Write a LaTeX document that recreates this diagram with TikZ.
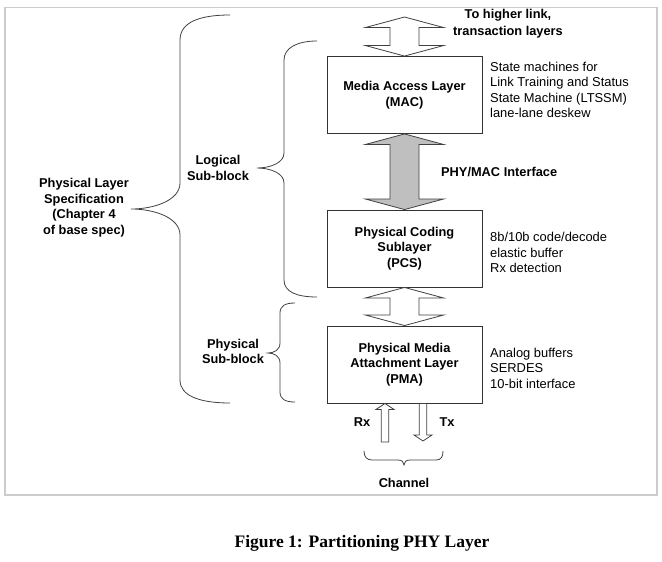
\documentclass[tikz,border=0pt]{standalone}
\usepackage{fontspec}
\setmainfont{Liberation Sans}
\newfontfamily\capfont{Liberation Serif}
\usetikzlibrary{calc}
\tikzset{
  layerbox/.style={draw=black!80, line width=0.9pt, minimum width=155pt, minimum height=77pt, align=center, font=\fontsize{12.8}{15.5}\selectfont\bfseries, inner sep=0pt},
  lbl/.style={font=\fontsize{12.8}{15.5}\selectfont\bfseries, align=center, inner sep=0pt},
  note/.style={font=\fontsize{12.9}{15.5}\selectfont, align=left, anchor=west, inner sep=0pt},
  bracestyle/.style={draw=black!75, line width=0.8pt},
  blockarr/.style={draw=black!75, line width=0.8pt, fill=white, line join=miter},
  framestyle/.style={draw=black!20, line width=1.2pt},
}
\newcommand{\dblarr}[3]{%
  \path[#3] let \p1=(#1), \p2=(#2) in
    (\x1,\y1) -- ({\x1+39pt},{\y1-10.5pt}) -- ({\x1+14.5pt},{\y1-10.5pt})
    -- ({\x2+14.5pt},{\y2+10.5pt}) -- ({\x2+39pt},{\y2+10.5pt}) -- (\x2,\y2)
    -- ({\x2-39pt},{\y2+10.5pt}) -- ({\x2-14.5pt},{\y2+10.5pt})
    -- ({\x1-14.5pt},{\y1-10.5pt}) -- ({\x1-39pt},{\y1-10.5pt}) -- cycle;}
% #1 tail, #2 tip, #3 sign (1 = tip above tail, -1 = tip below tail)
\newcommand{\sglarr}[3]{%
  \path[blockarr] let \p1=(#1), \p2=(#2) in
    ({\x1-3.75pt},\y1) -- ({\x1-3.75pt},{\y2-#3*6pt}) -- ({\x1-9pt},{\y2-#3*6pt})
    -- (\x1,\y2) -- ({\x1+9pt},{\y2-#3*6pt}) -- ({\x1+3.75pt},{\y2-#3*6pt})
    -- ({\x1+3.75pt},\y1) -- cycle;}
\begin{document}
\begin{tikzpicture}[x=1pt,y=-1pt]
\useasboundingbox (0,0) rectangle (662,562);
\draw[framestyle] (5,7.5) rectangle (657,495);

% layer boxes
\node[layerbox] (mac) at (404.5,95) {Media Access Layer\\(MAC)};
\node[layerbox] (pcs) at (404.5,248.5) {Physical Coding\\Sublayer\\(PCS)};
\node[layerbox] (pma) at (404.5,364.5) {Physical Media\\Attachment Layer\\(PMA)};

% block arrows
\coordinate (higher) at (404.5,17);
\dblarr{higher}{mac.north}{blockarr}
\dblarr{mac.south}{pcs.north}{blockarr,fill=black!25}
\dblarr{pcs.south}{pma.north}{blockarr}

\coordinate (rxtail) at (385,442);
\coordinate (txtip) at (423,441);
\sglarr{rxtail}{pma.south -| rxtail}{1}
\sglarr{pma.south -| txtip}{txtip}{-1}

% labels
\node[lbl, font=\fontsize{12.8}{16.5}\selectfont\bfseries] (toh) at (508,23.5) {To higher link,\\transaction layers};
\node[lbl, anchor=west] (phymac) at (441,172) {PHY/MAC Interface};
\node[note] (macnote) at (490,90) {State machines for\\Link Training and Status\\State Machine (LTSSM)\\lane-lane deskew};
\node[note] (pcsnote) at (490,252.5) {8b/10b code/decode\\elastic buffer\\Rx detection};
\node[note] (pmanote) at (490,368) {Analog buffers\\SERDES\\10-bit interface};
\node[lbl] (logical) at (218,168) {Logical\\Sub-block};
\node[lbl] (physical) at (233,351.5) {Physical\\Sub-block};
\node[lbl] (physpec) at (84,207.5) {Physical Layer\\Specification\\(Chapter 4\\of base spec)};
\node[lbl] (rx) at (362,422) {Rx};
\node[lbl] (tx) at (447,422) {Tx};
\node[lbl] (channel) at (404,483) {Channel};
\node[font=\capfont\bfseries\fontsize{17.5}{20}\selectfont, inner sep=0pt] (caption) at (362,543) {Figure 1: Partitioning PHY Layer};

% braces
\draw[bracestyle] (230,15) .. controls (200,15) and (180,22) .. (180,40) -- (180,183)
  .. controls (180,200) and (155,209) .. (131,209)
  .. controls (155,209) and (180,218) .. (180,235) -- (180,380)
  .. controls (180,396) and (200,403) .. (230,403);
\draw[bracestyle] (317,41) .. controls (297,41) and (284,48) .. (284,60) -- (284,153)
  .. controls (284,163) and (270,168) .. (257,168)
  .. controls (270,168) and (284,173) .. (284,183) -- (284,280)
  .. controls (284,292) and (297,297) .. (317,297);
\draw[bracestyle] (295,303) .. controls (285,303) and (280,306) .. (280,313) -- (280,343)
  .. controls (280,350) and (274,353) .. (268,353)
  .. controls (274,353) and (280,356) .. (280,363) -- (280,392)
  .. controls (280,399) and (285,402) .. (295,402);
\draw[bracestyle] (364,451) .. controls (364,457) and (367,460) .. (372,460) -- (398,460)
  .. controls (402,460) and (404,462) .. (404,465)
  .. controls (404,462) and (406,460) .. (410,460) -- (436,460)
  .. controls (441,460) and (443,457) .. (443,451);
\end{tikzpicture}
\end{document}
